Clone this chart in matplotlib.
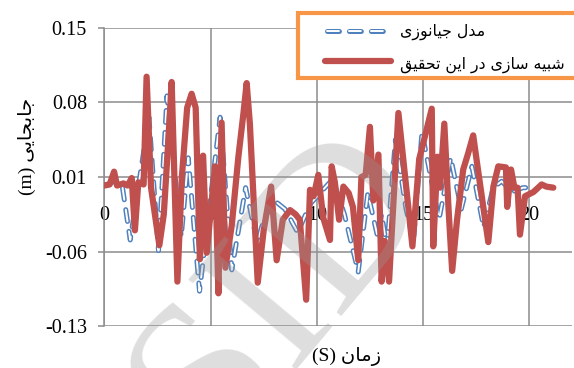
import matplotlib
matplotlib.use("Agg")
import matplotlib.pyplot as plt
from matplotlib.lines import Line2D
from matplotlib.patches import Rectangle

plt.rcParams['lines.scale_dashes'] = False

# ---- data -------------------------------------------------------------
time_red = [0.0, 0.25, 0.46, 0.6, 0.9, 1.1, 1.29, 1.44, 1.6, 1.85, 1.99, 2.2,
            2.59, 2.8, 3.0, 3.17, 3.44, 3.65, 3.9, 4.11, 4.3, 4.5, 4.65, 4.82,
            5.21, 5.37, 5.52, 5.7, 6.0, 6.31, 6.55, 6.7, 6.85, 7.22, 7.5, 7.85,
            8.11, 8.4, 8.74, 9.0, 9.2, 9.5, 9.68, 9.85, 10.07, 10.3, 10.62,
            10.7, 10.85, 11.05, 11.25, 11.5, 11.7, 11.95, 12.1, 12.3, 12.5,
            12.66, 12.9, 13.05, 13.2, 13.4, 13.84, 14.5, 14.82, 15.05, 15.41,
            15.48, 15.68, 15.8, 16.0, 16.2, 16.37, 16.6, 16.89, 17.12, 17.36,
            17.52, 18.07, 18.31, 18.54, 18.9, 18.96, 19.14, 19.3, 19.45, 19.56,
            19.8, 20.2, 20.58, 20.8, 21.13]
disp_red = [0.002, 0.003, 0.015, 0.002, 0.004, 0.002, 0.009, -0.040, 0.005,
            0.003, 0.104, 0.0, -0.054, -0.025, 0.040, 0.099, -0.088, 0.010,
            0.075, 0.088, 0.075, -0.067, 0.030, -0.061, 0.020, -0.099, 0.061,
            -0.075, -0.035, 0.029, 0.070, 0.098, 0.060, -0.089, -0.040, 0.001,
            -0.068, -0.030, -0.021, -0.025, -0.030, -0.105, -0.002, -0.008,
            0.012, -0.028, -0.049, 0.020, 0.005, -0.030, 0.001, -0.005, -0.018,
            -0.068, 0.010, 0.012, 0.057, -0.012, 0.031, -0.088, -0.050, -0.088,
            0.070, -0.055, 0.027, 0.045, 0.074, -0.055, 0.029, 0.0, 0.060,
            -0.020, -0.078, -0.030, 0.017, 0.032, 0.049, 0.026, -0.051, 0.001,
            0.020, 0.019, -0.018, 0.017, 0.0, 0.0, -0.044, -0.008, -0.004,
            0.003, 0.001, 0.0]

time_blue = [0.0, 0.5, 0.85, 1.22, 2.1, 2.55, 2.95, 3.62, 3.95, 4.48, 5.45,
             6.0, 6.65, 7.2, 7.5, 8.0, 8.5, 9.1, 9.7, 10.75, 11.3, 11.95,
             12.4, 12.85, 13.05, 13.3, 13.7, 14.2, 14.55, 14.95, 15.75, 16.3,
             16.8, 17.3, 17.85, 18.3, 18.7, 19.2, 19.7, 20.2]
disp_blue = [0.002, 0.006, 0.001, -0.049, 0.066, -0.059, 0.086, -0.046, 0.028,
             -0.097, 0.066, -0.077, 0.0, -0.052, -0.030, -0.012, -0.020, -0.042,
             -0.015, 0.008, -0.025, -0.079, -0.005, -0.045, -0.025, -0.056,
             0.045, -0.020, -0.050, 0.052, -0.030, 0.028, -0.020, 0.020,
             -0.037, 0.0, 0.006, -0.004, 0.0, 0.0]

y_ticks = [0.15, 0.08, 0.01, -0.06, -0.13]
y_tick_labels = ["0.15", "0.08", "0.01", "-0.06", "-0.13"]
x_ticks = [0, 5, 10, 15, 20]
x_tick_labels = ["0", "5", "10", "15", "20"]

label_blue = "مدل جیانوزی"
label_red = "شبیه سازی در این تحقیق"
x_title = "زمان"
y_title = "جابجایی"

# ---- Persian text: contextual letter forms, laid out right to left ------
# (isolated, final, initial, medial); right-joining letters have no initial/medial
FORMS = {
    'ا': ('\uFE8D', '\uFE8E', None, None),
    'ب': ('\uFE8F', '\uFE90', '\uFE91', '\uFE92'),
    'ت': ('\uFE95', '\uFE96', '\uFE97', '\uFE98'),
    'ج': ('\uFE9D', '\uFE9E', '\uFE9F', '\uFEA0'),
    'ح': ('\uFEA1', '\uFEA2', '\uFEA3', '\uFEA4'),
    'د': ('\uFEA9', '\uFEAA', None, None),
    'ر': ('\uFEAD', '\uFEAE', None, None),
    'ز': ('\uFEAF', '\uFEB0', None, None),
    'س': ('\uFEB1', '\uFEB2', '\uFEB3', '\uFEB4'),
    'ش': ('\uFEB5', '\uFEB6', '\uFEB7', '\uFEB8'),
    'ق': ('\uFED5', '\uFED6', '\uFED7', '\uFED8'),
    'ل': ('\uFEDD', '\uFEDE', '\uFEDF', '\uFEE0'),
    'م': ('\uFEE1', '\uFEE2', '\uFEE3', '\uFEE4'),
    'ن': ('\uFEE5', '\uFEE6', '\uFEE7', '\uFEE8'),
    'ه': ('\uFEE9', '\uFEEA', '\uFEEB', '\uFEEC'),
    'و': ('\uFEED', '\uFEEE', None, None),
    'ی': ('\uFEEF', '\uFEF0', '\uFEF3', '\uFEF4'),
}


def rtl(text):
    out = []
    for i, ch in enumerate(text):
        forms = FORMS.get(ch)
        if forms is None:
            out.append(ch)
            continue
        prev = text[i - 1] if i > 0 else None
        nxt = text[i + 1] if i + 1 < len(text) else None
        join_prev = prev in FORMS and FORMS[prev][2] is not None
        join_next = forms[2] is not None and nxt in FORMS
        if join_prev and join_next:
            out.append(forms[3])
        elif join_prev:
            out.append(forms[1])
        elif join_next:
            out.append(forms[2])
        else:
            out.append(forms[0])
    return ''.join(reversed(out))


# ---- styling ------------------------------------------------------------
RED = '#C0504D'
BLUE = '#4F81BD'
ORANGE = '#F79646'
GRID = '#8C8C8C'
SERIF = ['Liberation Serif', 'DejaVu Sans']
ARABIC = ['DejaVu Sans']

W, H = 574, 368
fig = plt.figure(figsize=(W / 100, H / 100), dpi=100)


def fx(px):
    return px / W


def fy(py):
    return 1 - py / H


ax = fig.add_axes([fx(104.3), fy(326.4), fx(571.8) - fx(104.3), fy(27.6) - fy(326.4)])
ax.set_xlim(0, 22)
ax.set_ylim(-0.13, 0.15)

# hollow capsule dashes: wide blue stroke with a thin white stroke on top
dash = (8.6, 7.2)
blue_outer, = ax.plot(time_blue, disp_blue, color=BLUE, lw=3.6, zorder=3,
                      dash_capstyle='round', dash_joinstyle='round')
blue_outer.set_dashes(dash)
blue_inner, = ax.plot(time_blue, disp_blue, color='white', lw=1.4, zorder=3.1,
                      dash_capstyle='round', dash_joinstyle='round')
blue_inner.set_dashes(dash)

ax.plot(time_red, disp_red, color=RED, lw=4.5, zorder=4,
        solid_joinstyle='round', solid_capstyle='round')

# grid and axes; the time labels sit on the zero line
for side in ('top', 'right', 'bottom'):
    ax.spines[side].set_visible(False)
ax.spines['bottom'].set_position(('data', 0))
ax.spines['left'].set_color(GRID)
ax.spines['left'].set_linewidth(1.1)
ax.set_yticks(y_ticks)
ax.set_yticklabels(y_tick_labels, family=SERIF, fontsize=14.5)
ax.set_xticks(x_ticks)
ax.set_xticklabels(x_tick_labels, family=SERIF, fontsize=14.5)
ax.grid(True, color=GRID, lw=1.1, zorder=0)
ax.set_axisbelow(True)
ax.tick_params(axis='y', length=4.5, width=1.1, color=GRID, pad=8, labelcolor='black')
ax.tick_params(axis='x', length=0, pad=13, labelcolor='black')

# axis titles
fig.text(fx(347), fy(356), '(S) ' + rtl(x_title), family=SERIF, fontsize=14,
         ha='center', va='center')
fig.text(fx(27), fy(146), '(m) ' + rtl(y_title), family=SERIF, fontsize=14,
         ha='center', va='center', rotation=90)

# legend box
fig.add_artist(Rectangle((fx(298), fy(78)), fx(590) - fx(298), fy(13) - fy(78),
                         transform=fig.transFigure, facecolor='white',
                         edgecolor=ORANGE, lw=3.0, zorder=5))
sample_o = Line2D([fx(327), fx(383)], [fy(31), fy(31)], transform=fig.transFigure,
                  color=BLUE, lw=3.6, dash_capstyle='round', zorder=6)
sample_o.set_dashes(dash)
sample_i = Line2D([fx(327), fx(383)], [fy(31), fy(31)], transform=fig.transFigure,
                  color='white', lw=1.4, dash_capstyle='round', zorder=6.1)
sample_i.set_dashes(dash)
fig.add_artist(sample_o)
fig.add_artist(sample_i)
fig.add_artist(Line2D([fx(325), fx(391)], [fy(61), fy(61)], transform=fig.transFigure,
                      color=RED, lw=4.5, solid_capstyle='round', zorder=6))
fig.text(fx(400), fy(32), rtl(label_blue), family=ARABIC, fontsize=11.3,
         ha='left', va='center', zorder=7)
fig.text(fx(400), fy(65), rtl(label_red), family=ARABIC, fontsize=11.3,
         ha='left', va='center', zorder=7)

# faint site mark across the plot
fig.text(fx(282), fy(290), 'SID', family=['Liberation Serif'], fontsize=155,
         color='#9a9a9a', alpha=0.32, rotation=50, ha='center', va='center',
         zorder=8)

fig.savefig('out.png', dpi=100)
